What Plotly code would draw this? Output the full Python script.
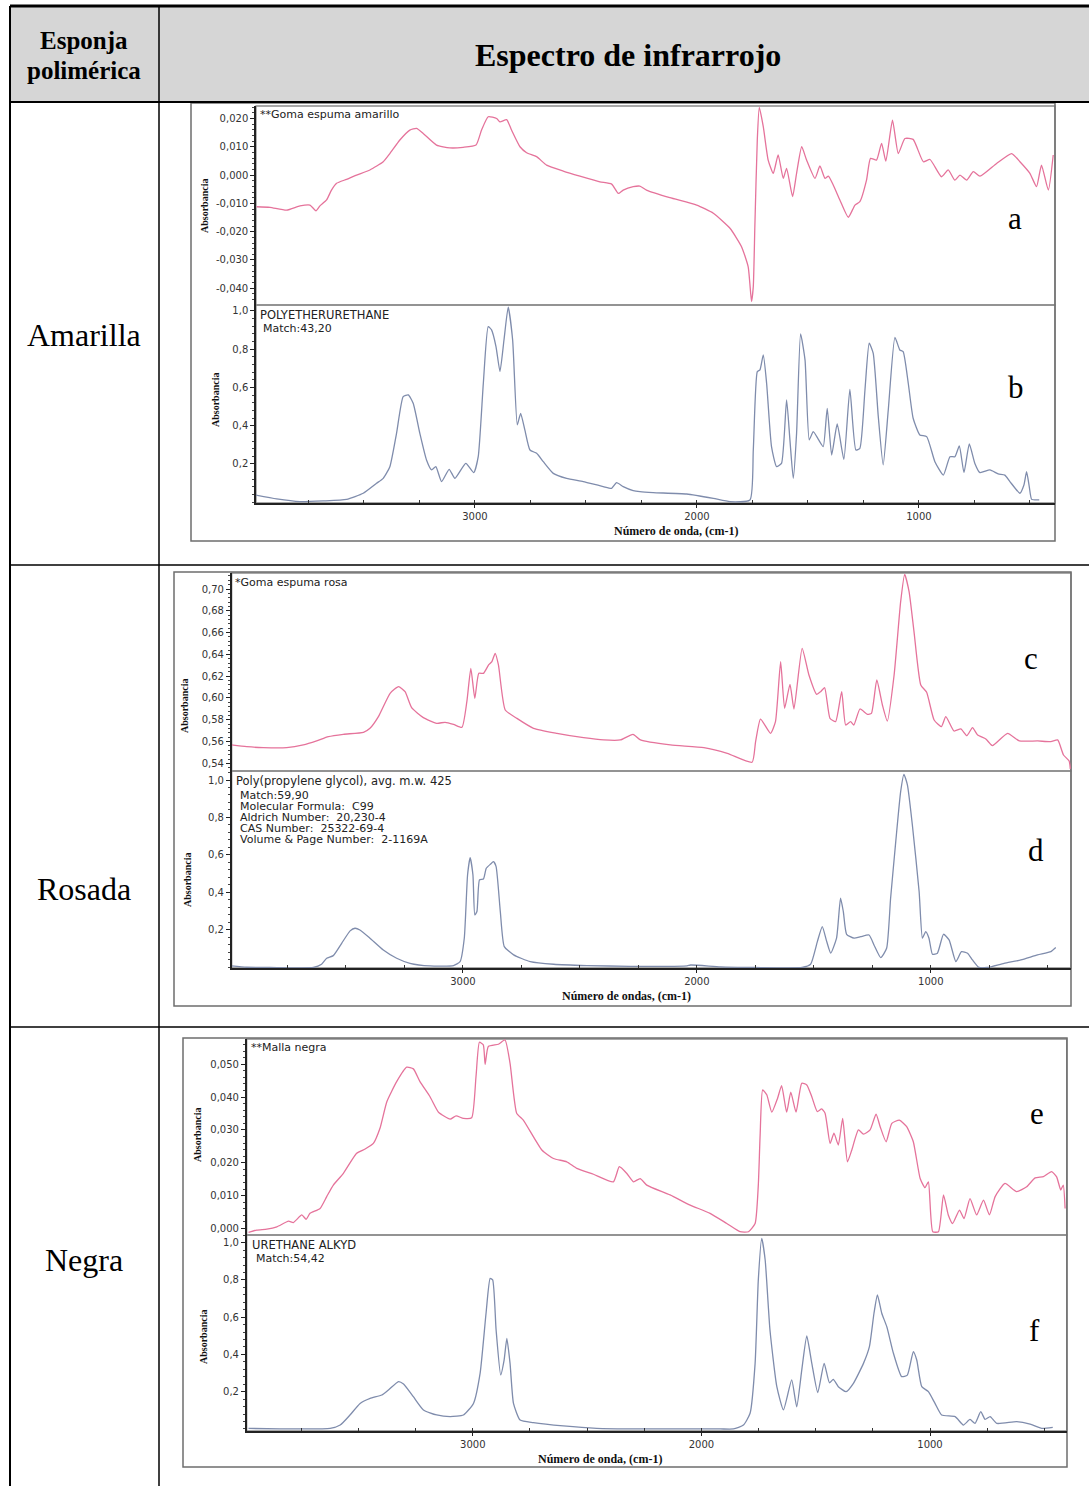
import plotly.graph_objects as go

W, H = 1089, 1486

# ---------------- spectra: wavenumber (cm-1) / absorbance ----------------
# a) sample: yellow foam
wn_a = [3983, 3923, 3848, 3788, 3743, 3716, 3698, 3668, 3646, 3623, 3578, 3533, 3473, 3413,
        3383, 3338, 3293, 3263, 3233, 3173, 3113, 3053, 2995, 2970, 2940, 2902, 2887, 2857,
        2835, 2797, 2767, 2722, 2677, 2602, 2527, 2437, 2384, 2354, 2332, 2287, 2257, 2227,
        2122, 2001, 1926, 1851, 1799, 1769, 1754, 1746, 1739, 1728, 1719, 1701, 1679, 1656,
        1634, 1611, 1596, 1569, 1551, 1528, 1506, 1468, 1446, 1423, 1408, 1386, 1356, 1318,
        1288, 1266, 1236, 1218, 1191, 1168, 1149, 1119, 1093, 1063, 1026, 980, 950, 898, 868,
        838, 815, 785, 755, 725, 650, 582, 545, 500, 470, 448, 417, 395]
abs_a = [-0.0112, -0.0114, -0.0124, -0.0109, -0.0106, -0.0126, -0.0109, -0.0088, -0.0053,
         -0.0029, -0.0015, 0.0000, 0.0018, 0.0047, 0.0076, 0.0124, 0.0159, 0.0165, 0.0147,
         0.0106, 0.0096, 0.0098, 0.0106, 0.0159, 0.0206, 0.0200, 0.0188, 0.0196, 0.0159,
         0.0100, 0.0079, 0.0065, 0.0035, 0.0014, -0.0004, -0.0024, -0.0032, -0.0065, -0.0053,
         -0.0041, -0.0039, -0.0053, -0.0080, -0.0106, -0.0135, -0.0188, -0.0253, -0.0324,
         -0.0447, -0.0394, -0.0182, 0.0124, 0.0239, 0.0171, 0.0053, 0.0006, 0.0071, -0.0012,
         0.0024, -0.0076, 0.0006, 0.0100, 0.0053, -0.0012, 0.0032, -0.0012, -0.0004, -0.0035,
         -0.0088, -0.0149, -0.0106, -0.0094, -0.0018, 0.0059, 0.0053, 0.0112, 0.0049, 0.0194,
         0.0076, 0.0129, 0.0126, 0.0047, 0.0055, -0.0006, 0.0018, -0.0018, 0.0000, -0.0018,
         0.0012, -0.0004, 0.0041, 0.0076, 0.0047, 0.0006, -0.0041, 0.0035, -0.0053, 0.0071]

# b) library match: polyetherurethane
wn_b = [3991, 3893, 3788, 3683, 3578, 3503, 3443, 3413, 3383, 3353, 3323, 3300, 3278, 3248,
        3218, 3195, 3176, 3150, 3116, 3090, 3041, 3005, 2985, 2962, 2940, 2925, 2905, 2887,
        2869, 2850, 2830, 2809, 2794, 2775, 2752, 2722, 2692, 2647, 2587, 2512, 2422, 2384,
        2362, 2332, 2287, 2257, 2197, 2046, 1926, 1851, 1761, 1746, 1728, 1716, 1701, 1686,
        1664, 1641, 1619, 1596, 1581, 1566, 1551, 1533, 1513, 1494, 1476, 1453, 1431, 1413,
        1393, 1368, 1338, 1311, 1284, 1266, 1243, 1224, 1206, 1183, 1161, 1138, 1108, 1086,
        1071, 1048, 1026, 996, 965, 928, 890, 860, 838, 818, 797, 773, 748, 725, 680, 643,
        613, 590, 545, 527, 515, 503, 492, 458]
abs_b = [0.038, 0.017, 0.003, 0.007, 0.015, 0.047, 0.099, 0.125, 0.186, 0.360, 0.552, 0.561,
         0.517, 0.360, 0.221, 0.169, 0.186, 0.108, 0.172, 0.125, 0.203, 0.155, 0.238, 0.622,
         0.918, 0.901, 0.814, 0.683, 0.848, 1.020, 0.848, 0.404, 0.465, 0.378, 0.273, 0.256,
         0.212, 0.151, 0.125, 0.108, 0.082, 0.073, 0.102, 0.082, 0.061, 0.055, 0.050, 0.043,
         0.020, 0.003, 0.012, 0.273, 0.683, 0.692, 0.770, 0.622, 0.291, 0.186, 0.203, 0.535,
         0.326, 0.125, 0.360, 0.880, 0.744, 0.326, 0.369, 0.329, 0.291, 0.491, 0.247, 0.409,
         0.224, 0.590, 0.273, 0.282, 0.587, 0.831, 0.779, 0.448, 0.195, 0.482, 0.862, 0.796,
         0.787, 0.622, 0.439, 0.352, 0.343, 0.212, 0.142, 0.238, 0.238, 0.294, 0.155, 0.305,
         0.203, 0.155, 0.169, 0.148, 0.142, 0.108, 0.047, 0.090, 0.160, 0.082, 0.015, 0.012]

# c) sample: pink foam
wn_c = [3989, 3924, 3853, 3753, 3682, 3625, 3575, 3511, 3425, 3397, 3361, 3311, 3275, 3247,
        3219, 3169, 3112, 3076, 3040, 3004, 2983, 2966, 2949, 2932, 2912, 2890, 2876, 2862,
        2848, 2819, 2769, 2698, 2598, 2484, 2398, 2327, 2273, 2241, 2113, 1970, 1870, 1764,
        1749, 1728, 1685, 1664, 1642, 1625, 1602, 1585, 1550, 1521, 1488, 1471, 1454, 1431,
        1407, 1381, 1364, 1343, 1329, 1303, 1271, 1254, 1231, 1207, 1186, 1157, 1129, 1112,
        1093, 1072, 1043, 1018, 986, 955, 936, 901, 872, 846, 822, 800, 765, 737, 672, 622,
        544, 487, 458, 433, 409, 404]
abs_c = [0.5569, 0.5553, 0.5544, 0.5544, 0.5569, 0.5606, 0.5645, 0.5667, 0.5685, 0.5722,
         0.5829, 0.6043, 0.6104, 0.6058, 0.5911, 0.5820, 0.5768, 0.5777, 0.5758, 0.5731,
         0.5966, 0.6272, 0.5997, 0.6226, 0.6226, 0.6303, 0.6333, 0.6410, 0.6303, 0.5890,
         0.5813, 0.5722, 0.5676, 0.5636, 0.5615, 0.5615, 0.5667, 0.5615, 0.5569, 0.5544,
         0.5492, 0.5410, 0.5599, 0.5807, 0.5676, 0.5783, 0.6333, 0.5905, 0.6125, 0.5899,
         0.6456, 0.6211, 0.6034, 0.6058, 0.6095, 0.5813, 0.5783, 0.6058, 0.5752, 0.5783,
         0.5752, 0.5899, 0.5850, 0.5859, 0.6165, 0.5936, 0.5789, 0.6211, 0.6884, 0.7135,
         0.6976, 0.6609, 0.6119, 0.6052, 0.5798, 0.5737, 0.5829, 0.5697, 0.5716, 0.5654,
         0.5728, 0.5660, 0.5624, 0.5563, 0.5676, 0.5606, 0.5606, 0.5599, 0.5615, 0.5477,
         0.5422, 0.5349]

# d) library match: poly(propylene glycol)
wn_d = [3989, 3924, 3825, 3639, 3604, 3582, 3554, 3518, 3482, 3461, 3440, 3397, 3340, 3283,
        3226, 3140, 3040, 3012, 2994, 2980, 2969, 2957, 2949, 2940, 2929, 2912, 2900, 2883,
        2869, 2858, 2840, 2823, 2783, 2712, 2612, 2470, 2284, 2042, 2027, 1899, 1756, 1550,
        1514, 1485, 1464, 1445, 1428, 1403, 1386, 1374, 1360, 1328, 1300, 1264, 1243, 1214,
        1189, 1172, 1150, 1129, 1115, 1100, 1079, 1050, 1036, 1022, 1008, 993, 972, 946, 922,
        893, 869, 843, 822, 794, 758, 687, 615, 544, 487, 466]
abs_d = [0.008, 0.001, 0.000, 0.000, 0.017, 0.049, 0.063, 0.129, 0.195, 0.209, 0.200, 0.156,
         0.093, 0.049, 0.022, 0.008, 0.010, 0.031, 0.156, 0.493, 0.586, 0.493, 0.280, 0.298,
         0.467, 0.472, 0.529, 0.550, 0.564, 0.538, 0.298, 0.111, 0.067, 0.031, 0.017, 0.010,
         0.006, 0.008, 0.013, 0.003, 0.000, 0.000, 0.017, 0.138, 0.218, 0.138, 0.076, 0.156,
         0.369, 0.298, 0.177, 0.156, 0.164, 0.173, 0.120, 0.052, 0.102, 0.369, 0.671, 0.938,
         1.030, 0.973, 0.760, 0.404, 0.156, 0.191, 0.156, 0.070, 0.076, 0.177, 0.147, 0.031,
         0.084, 0.076, 0.040, 0.000, 0.000, 0.022, 0.040, 0.067, 0.084, 0.106]

# e) sample: black mesh
wn_e = [3981, 3945, 3901, 3857, 3806, 3785, 3748, 3729, 3712, 3668, 3639, 3610, 3566, 3508,
        3471, 3435, 3406, 3376, 3333, 3289, 3260, 3231, 3187, 3150, 3099, 3073, 3041, 3005,
        2986, 2971, 2954, 2946, 2932, 2888, 2859, 2837, 2808, 2779, 2698, 2647, 2589, 2545,
        2472, 2385, 2359, 2327, 2297, 2268, 2239, 2137, 2049, 1962, 1889, 1831, 1794, 1765,
        1751, 1743, 1732, 1714, 1692, 1667, 1649, 1627, 1609, 1586, 1561, 1539, 1517, 1493,
        1474, 1459, 1437, 1420, 1401, 1382, 1361, 1342, 1313, 1291, 1262, 1236, 1218, 1192,
        1167, 1134, 1102, 1073, 1043, 1022, 1007, 988, 963, 941, 920, 901, 871, 851, 825,
        796, 766, 740, 715, 672, 621, 577, 540, 504, 468, 446, 428, 417, 409]
abs_e = [-0.0012, -0.0005, -0.0002, 0.0005, 0.0022, 0.0018, 0.0041, 0.0028, 0.0046, 0.0061,
         0.0097, 0.0132, 0.0168, 0.0229, 0.0242, 0.0259, 0.0305, 0.0386, 0.0447, 0.0491,
         0.0486, 0.0447, 0.0401, 0.0354, 0.0333, 0.0343, 0.0335, 0.0337, 0.0462, 0.0567,
         0.0559, 0.0500, 0.0554, 0.0561, 0.0574, 0.0503, 0.0351, 0.0330, 0.0239, 0.0213,
         0.0203, 0.0183, 0.0165, 0.0142, 0.0188, 0.0168, 0.0142, 0.0152, 0.0132, 0.0102,
         0.0071, 0.0046, 0.0015, -0.0010, -0.0010, 0.0015, 0.0132, 0.0285, 0.0422, 0.0407,
         0.0354, 0.0396, 0.0435, 0.0354, 0.0415, 0.0354, 0.0442, 0.0437, 0.0401, 0.0356,
         0.0364, 0.0351, 0.0259, 0.0290, 0.0254, 0.0335, 0.0203, 0.0239, 0.0300, 0.0287,
         0.0300, 0.0348, 0.0310, 0.0264, 0.0320, 0.0330, 0.0310, 0.0264, 0.0152, 0.0124,
         0.0142, -0.0010, -0.0010, 0.0102, 0.0041, 0.0015, 0.0056, 0.0030, 0.0091, 0.0041,
         0.0086, 0.0041, 0.0097, 0.0137, 0.0112, 0.0127, 0.0154, 0.0158, 0.0173, 0.0157,
         0.0117, 0.0132, 0.0061]

# f) library match: urethane alkyd
wn_f = [3981, 3843, 3755, 3624, 3580, 3537, 3493, 3449, 3398, 3369, 3325, 3303, 3260, 3216,
        3158, 3099, 3041, 2997, 2968, 2942, 2924, 2913, 2898, 2878, 2863, 2851, 2837, 2822,
        2793, 2735, 2604, 2458, 2268, 2137, 1918, 1860, 1816, 1787, 1765, 1751, 1736, 1721,
        1700, 1670, 1641, 1605, 1583, 1561, 1539, 1517, 1491, 1463, 1440, 1423, 1401, 1367,
        1335, 1291, 1265, 1245, 1230, 1211, 1189, 1160, 1124, 1099, 1073, 1058, 1036, 1007,
        978, 949, 890, 854, 825, 803, 778, 759, 737, 708, 621, 562, 511, 463]
abs_f = [0.003, 0.000, 0.000, 0.003, 0.021, 0.075, 0.137, 0.164, 0.182, 0.209, 0.254, 0.241,
         0.173, 0.102, 0.075, 0.066, 0.075, 0.137, 0.298, 0.621, 0.808, 0.800, 0.531, 0.290,
         0.370, 0.486, 0.352, 0.137, 0.048, 0.034, 0.016, 0.003, 0.000, 0.000, 0.000, 0.000,
         0.021, 0.084, 0.352, 0.800, 1.023, 0.907, 0.531, 0.227, 0.102, 0.263, 0.119, 0.316,
         0.499, 0.352, 0.195, 0.352, 0.248, 0.266, 0.227, 0.200, 0.245, 0.352, 0.442, 0.621,
         0.719, 0.621, 0.549, 0.406, 0.281, 0.289, 0.415, 0.370, 0.227, 0.200, 0.137, 0.075,
         0.066, 0.021, 0.051, 0.030, 0.093, 0.051, 0.066, 0.030, 0.039, 0.026, 0.003, 0.009]

# ---------------- tick labels ----------------
ticks_x = [3000, 2000, 1000]
ticks_a = [0.020, 0.010, 0.000, -0.010, -0.020, -0.030, -0.040]
ticks_c = [0.70, 0.68, 0.66, 0.64, 0.62, 0.60, 0.58, 0.56, 0.54]
ticks_e = [0.050, 0.040, 0.030, 0.020, 0.010, 0.000]
ticks_ref = [1.0, 0.8, 0.6, 0.4, 0.2]

row_names = ["Amarilla", "Rosada", "Negra"]
panel_letters = ["a", "b", "c", "d", "e", "f"]

PINK = "#e5739b"
BLUE = "#7f8cac"
SANS = "DejaVu Sans"
SERIF = "Liberation Serif"


def fx(px):
    return px / W


def fy(py):
    return 1 - py / H


def comma(v, d):
    return f"{v:.{d}f}".replace(".", ",")


# each sub-plot: data, colour, pixel box (left, right, top, bottom), ranges, ticks
subplots = [
    dict(x=wn_a, y=abs_a, color=PINK, box=(256, 1055, 106, 305), xr=[3986, 387],
         yr=[-0.0459, 0.0244], yt=ticks_a, dec=3, minor=0.002, bottom=False),
    dict(x=wn_b, y=abs_b, color=BLUE, box=(256, 1055, 305, 503), xr=[3986, 387],
         yr=[-0.004, 1.031], yt=ticks_ref, dec=1, minor=0.04, bottom=True),
    dict(x=wn_c, y=abs_c, color=PINK, box=(231.7, 1071, 573, 771), xr=[3988, 401],
         yr=[0.533, 0.7147], yt=ticks_c, dec=2, minor=0.004, bottom=False),
    dict(x=wn_d, y=abs_d, color=BLUE, box=(231.7, 1071, 771, 968), xr=[3988, 401],
         yr=[-0.003, 1.048], yt=ticks_ref, dec=1, minor=0.04, bottom=True),
    dict(x=wn_e, y=abs_e, color=PINK, box=(246.7, 1066.7, 1039, 1235), xr=[3989, 402],
         yr=[-0.0020, 0.0577], yt=ticks_e, dec=3, minor=0.002, bottom=False),
    dict(x=wn_f, y=abs_f, color=BLUE, box=(246.7, 1066.7, 1235, 1431), xr=[3989, 402],
         yr=[-0.011, 1.041], yt=ticks_ref, dec=1, minor=0.04, bottom=True),
]

fig = go.Figure()
layout = {}
shapes = []

for i, sp in enumerate(subplots, start=1):
    xa = "x" if i == 1 else f"x{i}"
    ya = "y" if i == 1 else f"y{i}"
    l, r, t, b = sp["box"]
    fig.add_trace(go.Scatter(
        x=sp["x"], y=sp["y"], mode="lines", xaxis=xa, yaxis=ya,
        line=dict(color=sp["color"], width=1.3, shape="spline", smoothing=0.5),
        hoverinfo="skip", showlegend=False))

    xkey = "xaxis" if i == 1 else f"xaxis{i}"
    ykey = "yaxis" if i == 1 else f"yaxis{i}"
    xcfg = dict(domain=[fx(l), fx(r)], range=sp["xr"], anchor=ya, showgrid=False,
                zeroline=False, fixedrange=True)
    if sp["bottom"]:
        xcfg.update(showline=True, linecolor="#222", linewidth=1.5,
                    tickmode="array", tickvals=ticks_x, ticktext=[str(v) for v in ticks_x],
                    ticks="outside", ticklen=3, tickcolor="#222", tickwidth=1,
                    tickfont=dict(family=SANS, size=10, color="#333"),
                    minor=dict(ticks="inside", ticklen=3, dtick=250, tick0=0,
                               tickcolor="#333", showgrid=False))
    else:
        xcfg.update(showline=False, showticklabels=False, ticks="")
    layout[xkey] = xcfg

    layout[ykey] = dict(
        domain=[fy(b), fy(t)], range=sp["yr"], anchor=xa, showgrid=False, zeroline=False,
        fixedrange=True, showline=True, linecolor="#222", linewidth=1.5,
        tickmode="array", tickvals=sp["yt"], ticktext=[comma(v, sp["dec"]) for v in sp["yt"]],
        ticks="outside", ticklen=4, tickcolor="#222", tickwidth=1,
        tickfont=dict(family=SANS, size=10, color="#333"),
        minor=dict(ticks="outside", ticklen=2, dtick=sp["minor"], tick0=0,
                   tickcolor="#444", showgrid=False))

    # light frame round each plot area
    shapes.append(dict(type="rect", xref="paper", yref="paper", x0=fx(l), x1=fx(r),
                       y0=fy(b), y1=fy(t), line=dict(color="#8c8c8c", width=1.3),
                       layer="below"))

# outer frames of the three spectrum pictures
for (l, t, r, b) in [(191, 103, 1055, 541), (174, 572, 1071, 1006), (183, 1038, 1067, 1467)]:
    shapes.append(dict(type="rect", xref="paper", yref="paper", x0=fx(l), x1=fx(r),
                       y0=fy(b), y1=fy(t), line=dict(color="#6e6e6e", width=1.5),
                       layer="below"))

# table grid
shapes.insert(0, dict(type="rect", xref="paper", yref="paper", x0=fx(10), x1=1,
                      y0=fy(102), y1=fy(6), fillcolor="#d6d6d6", line=dict(width=0),
                      layer="below"))
grid_lines = [
    (10, 6, 1089, 6, 3), (10, 102, 1089, 102, 2), (10, 565, 1089, 565, 1.5),
    (10, 1027, 1089, 1027, 1.5), (10, 6, 10, 1486, 2), (159, 6, 159, 1486, 1.5),
]
for (x0, y0, x1, y1, w) in grid_lines:
    shapes.append(dict(type="line", xref="paper", yref="paper", x0=fx(x0), x1=fx(x1),
                       y0=fy(y0), y1=fy(y1), line=dict(color="#000", width=w)))

ann = []


def text(px, py, s, size, family=SANS, color="#222", xanchor="left", yanchor="top",
         angle=0, bold=False):
    ann.append(dict(x=fx(px), y=fy(py), xref="paper", yref="paper",
                    text=f"<b>{s}</b>" if bold else s,
                    showarrow=False, xanchor=xanchor, yanchor=yanchor, textangle=angle,
                    font=dict(family=family, size=size, color=color)))


# header row
text(84, 40, "Esponja", 25, SERIF, "#000", "center", "middle", bold=True)
text(84, 71, "polimérica", 25, SERIF, "#000", "center", "middle", bold=True)
text(628, 55, "Espectro de infrarrojo", 32, SERIF, "#000", "center", "middle", bold=True)

# row labels
for name, py in zip(row_names, [335, 889, 1260]):
    text(84, py, name, 32, SERIF, "#000", "center", "middle")

# panel letters
for letter, (px, py) in zip(panel_letters, [(1015, 218), (1016, 388), (1031, 659),
                                            (1036, 850), (1037, 1113), (1034, 1330)]):
    text(px, py, letter, 31, SERIF, "#000", "center", "middle")

# in-plot captions
text(258, 106, "**Goma espuma amarillo", 11)
text(258, 306, "POLYETHERURETHANE", 11.5)
text(261, 320, "Match:43,20", 11)
text(233, 574, "*Goma espuma rosa", 11)
ref_d = ["Poly(propylene glycol), avg. m.w. 425", "Match:59,90", "Molecular Formula:  C99",
         "Aldrich Number:  20,230-4", "CAS Number:  25322-69-4",
         "Volume &amp; Page Number:  2-1169A"]
text(234, 772, ref_d[0], 11.5)
for k, s in enumerate(ref_d[1:]):
    text(238, 787 + 11 * k, s, 11)
text(249, 1039, "**Malla negra", 11)
text(250, 1236, "URETHANE ALKYD", 11.5)
text(254, 1250, "Match:54,42", 11)

# axis titles
for px, py in [(204, 206), (215, 400), (184, 706), (187, 880), (197, 1135), (203, 1337)]:
    text(px, py, "Absorbancia", 10, SERIF, "#111", "center", "middle", angle=-90, bold=True)
text(676, 531, "Número de onda, (cm-1)", 12, SERIF, "#111", "center", "middle", bold=True)
text(626, 996, "Número de ondas, (cm-1)", 12, SERIF, "#111", "center", "middle", bold=True)
text(600, 1459, "Número de onda, (cm-1)", 12, SERIF, "#111", "center", "middle", bold=True)

fig.update_layout(
    width=W, height=H, margin=dict(l=0, r=0, t=0, b=0),
    paper_bgcolor="white", plot_bgcolor="white",
    shapes=shapes, annotations=ann, showlegend=False, **layout)

fig.write_html("out.html", include_plotlyjs=True, config={"displayModeBar": False})
